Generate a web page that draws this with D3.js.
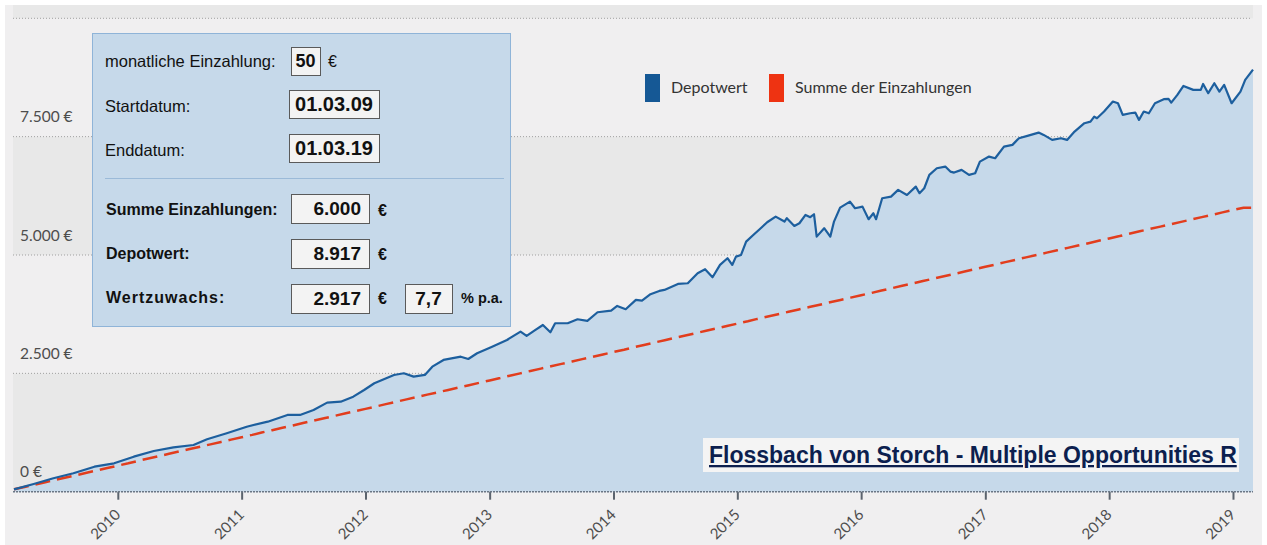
<!DOCTYPE html>
<html>
<head>
<meta charset="utf-8">
<script src="https://cdn.jsdelivr.net/npm/d3@7"></script>
<style>
  body { margin: 0; background: #ffffff; }
  svg { display: block; }
</style>
</head>
<body>
<script>
// Depotwert (decimal year, euro)
var depotYears = [
    2009.163, 2009.32, 2009.48, 2009.64, 2009.81, 2009.97, 2010.13, 2010.29, 2010.45, 2010.61,
    2010.72, 2010.88, 2011.04, 2011.21, 2011.37, 2011.47, 2011.58, 2011.69, 2011.80, 2011.90,
    2011.99, 2012.07, 2012.23, 2012.31, 2012.39, 2012.48, 2012.54, 2012.63, 2012.77, 2012.83,
    2012.90, 2013.01, 2013.14, 2013.25, 2013.30, 2013.37, 2013.43, 2013.49, 2013.53, 2013.63,
    2013.71, 2013.79, 2013.87, 2013.98, 2014.03, 2014.10, 2014.18, 2014.23, 2014.30, 2014.37,
    2014.41, 2014.52, 2014.60, 2014.68, 2014.74, 2014.80, 2014.86, 2014.92, 2014.96, 2014.99,
    2015.03, 2015.07, 2015.13, 2015.19, 2015.24, 2015.31, 2015.38, 2015.40, 2015.46, 2015.50,
    2015.55, 2015.59, 2015.62, 2015.64, 2015.70, 2015.75, 2015.78, 2015.83, 2015.91, 2015.95,
    2016.01, 2016.06, 2016.10, 2016.12, 2016.17, 2016.24, 2016.30, 2016.37, 2016.44, 2016.47,
    2016.51, 2016.55, 2016.61, 2016.68, 2016.72, 2016.75, 2016.81, 2016.87, 2016.92, 2016.96,
    2017.03, 2017.08, 2017.15, 2017.22, 2017.27, 2017.34, 2017.43, 2017.47, 2017.54, 2017.61,
    2017.66, 2017.72, 2017.80, 2017.85, 2017.88, 2017.90, 2017.96, 2018.03, 2018.07, 2018.11,
    2018.17, 2018.21, 2018.24, 2018.28, 2018.32, 2018.37, 2018.44, 2018.48, 2018.50, 2018.55,
    2018.60, 2018.68, 2018.74, 2018.76, 2018.80, 2018.85, 2018.89, 2018.93, 2018.99, 2019.06,
    2019.10, 2019.163
];
var depotValues = [
    50, 163, 283, 389, 528, 600, 740, 860, 938, 987,
    1107, 1234, 1373, 1479, 1621, 1621, 1726, 1881, 1902, 2007,
    2149, 2290, 2466, 2502, 2430, 2466, 2641, 2783, 2852, 2804,
    2924, 3051, 3205, 3381, 3290, 3417, 3522, 3368, 3558, 3558,
    3643, 3607, 3790, 3825, 3924, 3854, 4051, 4036, 4171, 4241,
    4262, 4389, 4403, 4615, 4699, 4530, 4790, 4932, 4790, 4966,
    5001, 5283, 5424, 5566, 5692, 5811, 5706, 5777, 5614, 5671,
    5847, 5798, 5861, 5388, 5566, 5388, 5706, 6001, 6128, 5988,
    6022, 5756, 5882, 5756, 6199, 6233, 6375, 6269, 6445, 6305,
    6410, 6692, 6833, 6868, 6762, 6741, 6798, 6692, 6727, 6973,
    7079, 7044, 7290, 7326, 7467, 7516, 7586, 7537, 7431, 7467,
    7431, 7607, 7784, 7818, 7924, 7889, 8030, 8241, 8206, 7959,
    7994, 8008, 7854, 8030, 7994, 8206, 8291, 8297, 8220, 8382,
    8572, 8488, 8488, 8614, 8418, 8629, 8452, 8594, 8206, 8452,
    8699, 8917
];

// Summe der Einzahlungen, one value per month from 03/2009 to 02/2019
var sumValues = [
    50, 100, 150, 200, 250, 300, 350, 400, 450, 500,
    550, 600, 650, 700, 750, 800, 850, 900, 950, 1000, 1050, 1100,
    1150, 1200, 1250, 1300, 1350, 1400, 1450, 1500, 1550, 1600, 1650, 1700,
    1750, 1800, 1850, 1900, 1950, 2000, 2050, 2100, 2150, 2200, 2250, 2300,
    2350, 2400, 2450, 2500, 2550, 2600, 2650, 2700, 2750, 2800, 2850, 2900,
    2950, 3000, 3050, 3100, 3150, 3200, 3250, 3300, 3350, 3400, 3450, 3500,
    3550, 3600, 3650, 3700, 3750, 3800, 3850, 3900, 3950, 4000, 4050, 4100,
    4150, 4200, 4250, 4300, 4350, 4400, 4450, 4500, 4550, 4600, 4650, 4700,
    4750, 4800, 4850, 4900, 4950, 5000, 5050, 5100, 5150, 5200, 5250, 5300,
    5350, 5400, 5450, 5500, 5550, 5600, 5650, 5700, 5750, 5800, 5850, 5900,
    5950, 6000
];

var yTicks = [0, 2500, 5000, 7500, 10000];
var xTickYears = [2010, 2011, 2012, 2013, 2014, 2015, 2016, 2017, 2018, 2019];
var legendLabels = ["Depotwert", "Summe der Einzahlungen"];
var fundName = "Flossbach von Storch - Multiple Opportunities R";

var inputLabels = ["monatliche Einzahlung:", "Startdatum:", "Enddatum:"];
var inputValues = ["50", "01.03.09", "01.03.19"];
var resultLabels = ["Summe Einzahlungen:", "Depotwert:", "Wertzuwachs:"];
var resultValues = ["6.000", "8.917", "2.917"];
var rateValue = "7,7";

function toDate(y) {
    var yr = Math.floor(y);
    return new Date(yr, 0, 1 + Math.round((y - yr) * 365));
}

function init() {
    var w = 1267;
    var h = 545;

    var svg = d3.select("body")
        .append("svg")
        .attr("width", w)
        .attr("height", h);

    // outer background
    svg.append("rect")
        .attr("x", 5).attr("y", 5)
        .attr("width", 1257).attr("height", h - 5)
        .attr("fill", "#f0eff0");

    var x = d3.scaleTime()
        .domain([new Date(2009, 2, 1), new Date(2019, 2, 1)])
        .range([14, 1253]);

    var y = d3.scaleLinear()
        .domain([0, 10000])
        .range([491.7, 18.3]);

    var left = 13, right = 1253;

    // horizontal bands
    var bands = [[0, 2500], [5000, 7500]];
    svg.selectAll("rect.band")
        .data(bands)
        .enter()
        .append("rect")
        .attr("class", "band")
        .attr("x", left)
        .attr("width", right - left)
        .attr("y", function(d) { return y(d[1]); })
        .attr("height", function(d) { return y(d[0]) - y(d[1]); })
        .attr("fill", "#e8e8e8");
    svg.append("rect")
        .attr("x", left).attr("width", right - left)
        .attr("y", 5).attr("height", y(10000) - 5)
        .attr("fill", "#e8e8e8");

    // dotted gridlines
    svg.selectAll("line.grid")
        .data(yTicks.slice(1))
        .enter()
        .append("line")
        .attr("class", "grid")
        .attr("x1", left).attr("x2", right - 3)
        .attr("y1", function(d) { return y(d); })
        .attr("y2", function(d) { return y(d); })
        .attr("stroke", "#a0a0a0")
        .attr("stroke-width", 1)
        .attr("stroke-dasharray", "1,2");

    var depot = depotYears.map(function(d, i) {
        return { date: toDate(d), value: depotValues[i] };
    });

    var months = d3.timeMonth.range(new Date(2009, 2, 1), new Date(2019, 2, 1));
    var sums = months.map(function(d, i) {
        return { date: d, value: sumValues[i] };
    });
    sums.push({ date: new Date(2019, 2, 1), value: sumValues[sumValues.length - 1] });

    // area under Depotwert
    var area = d3.area()
        .x(function(d) { return x(d.date); })
        .y0(y(0))
        .y1(function(d) { return y(d.value); });

    svg.append("path")
        .datum(depot)
        .attr("d", area)
        .attr("fill", "#c6d9ea");

    // y labels
    var fmt = d3.formatLocale({ decimal: ",", thousands: ".", grouping: [3], currency: ["", " €"] }).format(",d");
    svg.selectAll("text.ylab")
        .data(yTicks.slice(0, 4))
        .enter()
        .append("text")
        .attr("class", "ylab")
        .attr("x", 20)
        .attr("y", function(d) { return y(d) - 14.5; })
        .attr("fill", "#4d4d4d")
        .style("font-family", "Lato, sans-serif")
        .style("font-size", "15.5px")
        .text(function(d) { return fmt(d) + " €"; });

    // x axis
    var xAxis = d3.axisBottom(x)
        .tickValues(xTickYears.map(function(d) { return new Date(d, 0, 1); }))
        .tickSize(8)
        .tickFormat(d3.timeFormat("%Y"));

    var gx = svg.append("g")
        .attr("transform", "translate(0," + y(0) + ")")
        .call(xAxis);
    gx.select(".domain").remove();
    gx.selectAll(".tick line")
        .attr("stroke", "#5b636d")
        .attr("stroke-width", 2);
    gx.selectAll(".tick text")
        .attr("fill", "#4d4d4d")
        .style("font-family", "Lato, sans-serif")
        .style("font-size", "15px")
        .attr("text-anchor", "end")
        .attr("dy", null)
        .attr("y", 0)
        .attr("transform", "translate(3,24) rotate(-45)");

    svg.append("line")
        .attr("x1", left).attr("x2", right)
        .attr("y1", y(0)).attr("y2", y(0))
        .attr("stroke", "#6b7785")
        .attr("stroke-width", 1.5)
        .attr("stroke-dasharray", "2,1");

    // Summe der Einzahlungen
    var sumLine = d3.line()
        .x(function(d) { return x(d.date); })
        .y(function(d) { return y(d.value); });

    svg.append("path")
        .datum(sums)
        .attr("d", sumLine)
        .attr("fill", "none")
        .attr("stroke", "#e23d1d")
        .attr("stroke-width", 2.5)
        .attr("stroke-dasharray", "15,7");

    // Depotwert line
    var depotLine = d3.line()
        .x(function(d) { return x(d.date); })
        .y(function(d) { return y(d.value); });

    svg.append("path")
        .datum(depot)
        .attr("d", depotLine)
        .attr("fill", "none")
        .attr("stroke", "#1d5f9e")
        .attr("stroke-width", 2.2)
        .attr("stroke-linejoin", "round");

    // legend
    var legendColors = ["#155895", "#ee3312"];
    var legendX = [645, 769];
    var lg = svg.selectAll("g.legend")
        .data(legendLabels)
        .enter()
        .append("g")
        .attr("class", "legend")
        .attr("transform", function(d, i) { return "translate(" + legendX[i] + ",74)"; });
    lg.append("rect")
        .attr("width", 15).attr("height", 28)
        .attr("fill", function(d, i) { return legendColors[i]; });
    lg.append("text")
        .attr("x", 26).attr("y", 19)
        .attr("fill", "#333333")
        .style("font-family", "Lato, sans-serif")
        .style("font-size", "16px")
        .text(function(d) { return d; });

    // fund name
    svg.append("rect")
        .attr("x", 703).attr("y", 438)
        .attr("width", 536).attr("height", 34)
        .attr("fill", "#f4f4f4");
    svg.append("text")
        .attr("x", 709).attr("y", 463)
        .attr("fill", "#0c1f4f")
        .style("font-family", "'Liberation Sans', Arial, sans-serif")
        .style("font-weight", "bold")
        .style("font-size", "23px")
        .style("text-decoration", "underline")
        .text(fundName);

    // info box
    var box = svg.append("g");
    box.append("rect")
        .attr("x", 92.5).attr("y", 33.5)
        .attr("width", 418).attr("height", 293)
        .attr("fill", "#c6d9ea")
        .attr("stroke", "#8fb4d8");
    box.append("line")
        .attr("x1", 105).attr("x2", 504)
        .attr("y1", 178.5).attr("y2", 178.5)
        .attr("stroke", "#9bbad8");

    var font = "'Liberation Sans', Arial, sans-serif";
    function field(x0, y0, bw, bh, val, size, align) {
        box.append("rect")
            .attr("x", x0 + 0.5).attr("y", y0 + 0.5)
            .attr("width", bw).attr("height", bh)
            .attr("fill", "#f3f3f3")
            .attr("stroke", "#5a5a5a");
        box.append("text")
            .attr("x", align === "end" ? x0 + bw - 8 : x0 + bw / 2)
            .attr("y", y0 + bh / 2 + size * 0.36)
            .attr("text-anchor", align === "end" ? "end" : "middle")
            .style("font-family", font)
            .style("font-weight", "bold")
            .style("font-size", size + "px")
            .attr("fill", "#111111")
            .text(val);
    }
    function label(x0, y0, txt, size, bold, spacing) {
        box.append("text")
            .attr("x", x0).attr("y", y0)
            .style("font-family", font)
            .style("font-weight", bold ? "bold" : "normal")
            .style("font-size", size + "px")
            .style("letter-spacing", spacing ? spacing + "px" : null)
            .attr("fill", "#111111")
            .text(txt);
    }

    var inputY = [67, 112, 156];
    var inputBox = [[291, 47, 29, 28], [289, 90, 90, 28], [289, 134, 90, 28]];
    inputLabels.forEach(function(t, i) {
        label(105, inputY[i], t, 16.5, false);
        field(inputBox[i][0], inputBox[i][1], inputBox[i][2], inputBox[i][3], inputValues[i], i === 0 ? 18 : 20, "middle");
    });
    label(328, 67, "€", 16, false);

    var resultY = [215, 259, 303];
    var resultBoxY = [194, 239, 284];
    resultLabels.forEach(function(t, i) {
        label(106, resultY[i], t, 16, true, i === 2 ? 1 : 0);
        field(291, resultBoxY[i], 78, 29, resultValues[i], 19, "end");
        label(378, resultY[i] + 1, "€", 16, true);
    });
    field(405, 284, 47, 29, rateValue, 19, "middle");
    label(461, 303, "% p.a.", 14.5, true);
}
window.onload = init;
</script>
</body>
</html>
